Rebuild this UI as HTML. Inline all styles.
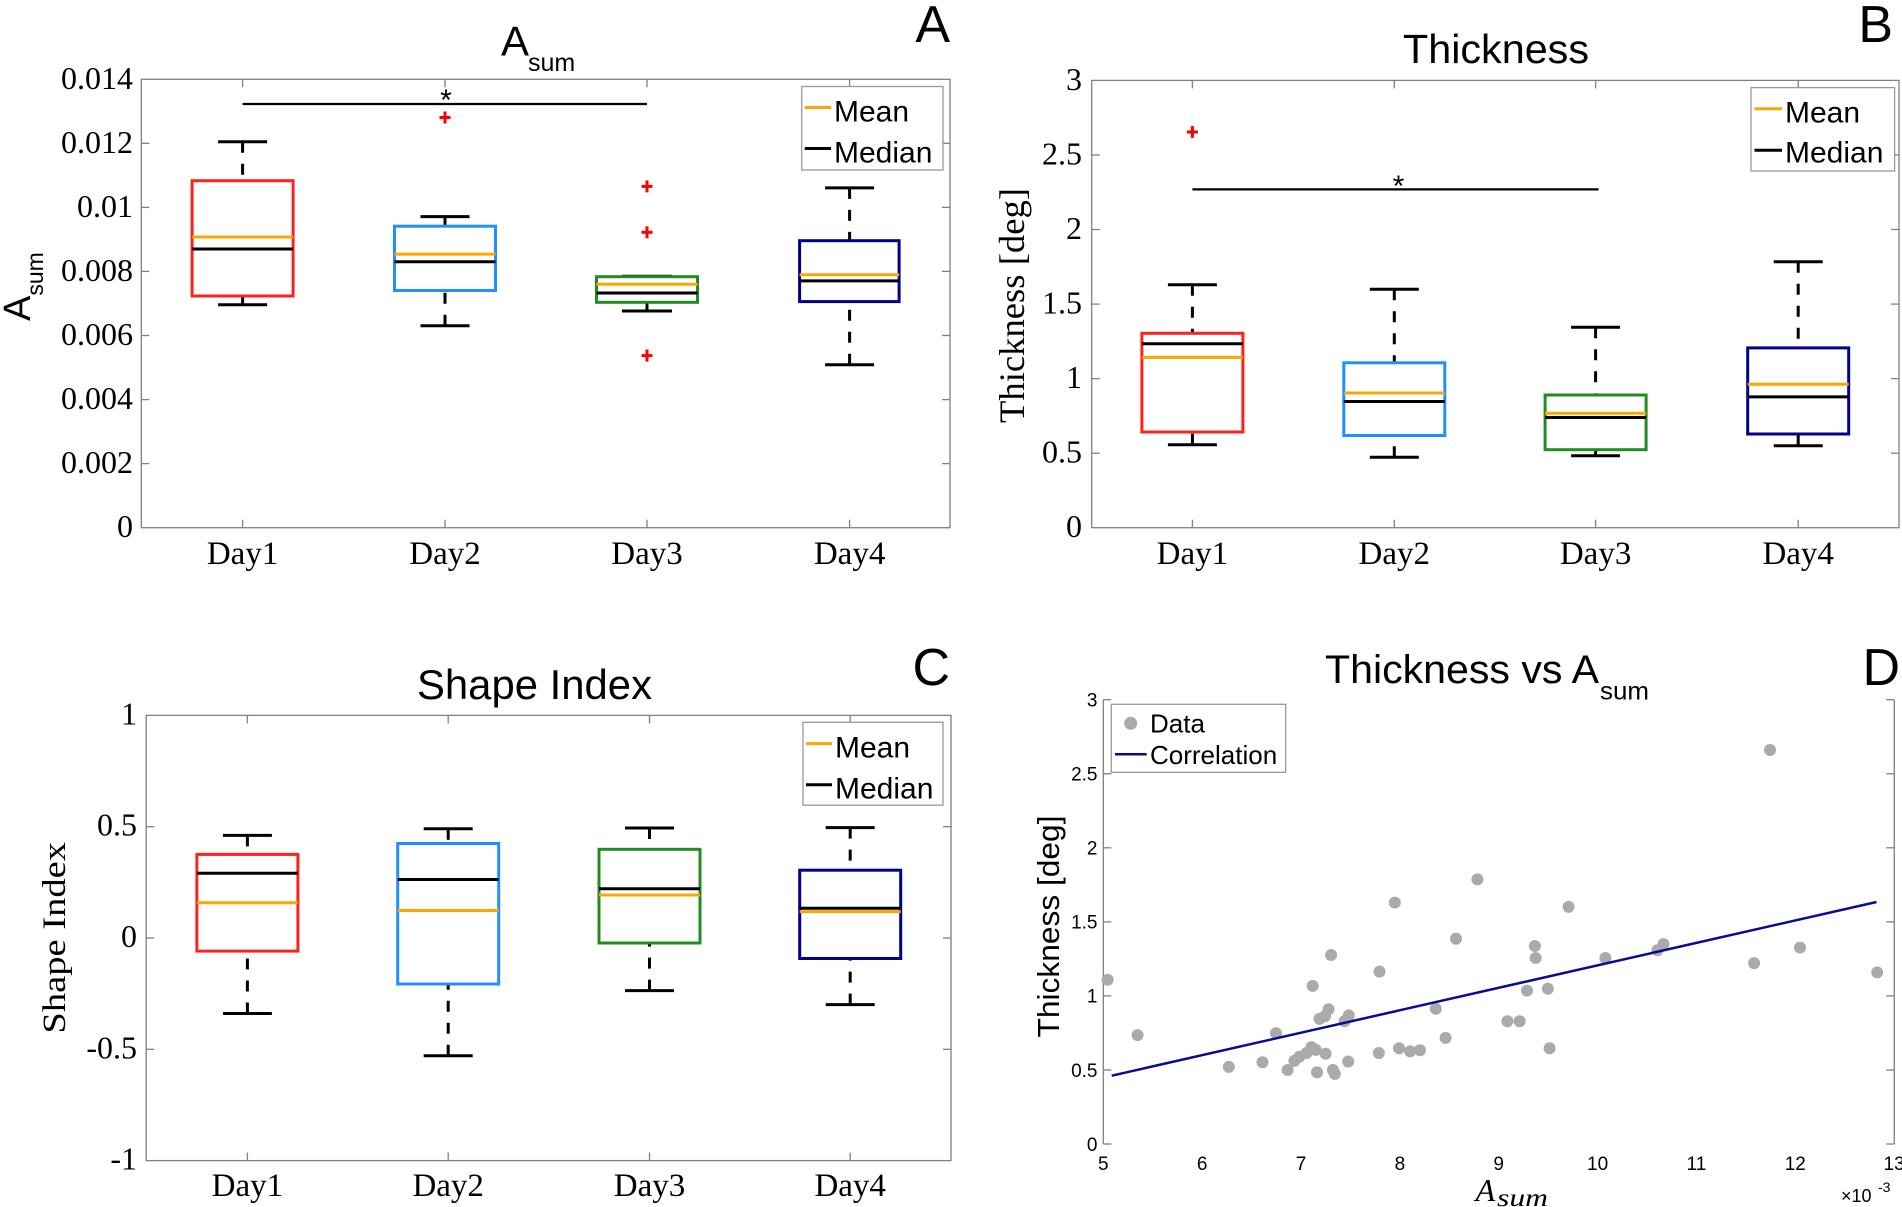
<!DOCTYPE html>
<html><head><meta charset="utf-8"><style>
html,body{margin:0;padding:0;background:#fff;}
svg{display:block;}
.ax{fill:none;stroke:#808080;stroke-width:1.3;}
.tk{stroke:#808080;stroke-width:1.3;}
.wh{stroke:#000;stroke-width:3;stroke-dasharray:11,11;}
.cap{stroke:#000;stroke-width:3;}
.med{stroke:#000;stroke-width:3;}
.mean{stroke:#ffa500;stroke-width:3;}
.out{stroke:#ff0000;stroke-width:3;}
.serif{font-family:"Liberation Serif",serif;fill:#000;}
.sans{font-family:"Liberation Sans",sans-serif;fill:#000;}
</style></head><body>
<svg width="1902" height="1207" viewBox="0 0 1902 1207" xmlns="http://www.w3.org/2000/svg">
<rect width="1902" height="1207" fill="#fff"/>

<!-- ============ PANEL A ============ -->
<text class="sans" x="501" y="55.5" font-size="42">A</text>
<text class="sans" x="528" y="71" font-size="25">sum</text>
<text class="sans" x="950" y="42" font-size="52" text-anchor="end">A</text>
<rect class="ax" x="141.3" y="79.3" width="808.7" height="448.4"/>
<g class="tk">
<line x1="141.3" y1="463.6" x2="149.3" y2="463.6"/><line x1="141.3" y1="399.6" x2="149.3" y2="399.6"/><line x1="141.3" y1="335.5" x2="149.3" y2="335.5"/><line x1="141.3" y1="271.4" x2="149.3" y2="271.4"/><line x1="141.3" y1="207.4" x2="149.3" y2="207.4"/><line x1="141.3" y1="143.3" x2="149.3" y2="143.3"/>
<line x1="950" y1="463.6" x2="942" y2="463.6"/><line x1="950" y1="399.6" x2="942" y2="399.6"/><line x1="950" y1="335.5" x2="942" y2="335.5"/><line x1="950" y1="271.4" x2="942" y2="271.4"/><line x1="950" y1="207.4" x2="942" y2="207.4"/><line x1="950" y1="143.3" x2="942" y2="143.3"/>
<line x1="242.6" y1="527.7" x2="242.6" y2="519.7"/><line x1="445" y1="527.7" x2="445" y2="519.7"/><line x1="647" y1="527.7" x2="647" y2="519.7"/><line x1="849.6" y1="527.7" x2="849.6" y2="519.7"/>
<line x1="242.6" y1="79.3" x2="242.6" y2="87.3"/><line x1="445" y1="79.3" x2="445" y2="87.3"/><line x1="647" y1="79.3" x2="647" y2="87.3"/><line x1="849.6" y1="79.3" x2="849.6" y2="87.3"/>
</g>
<g class="serif" font-size="32" text-anchor="end">
<text x="133" y="537.2">0</text><text x="133" y="473.1">0.002</text><text x="133" y="409.1">0.004</text><text x="133" y="345">0.006</text><text x="133" y="280.9">0.008</text><text x="133" y="216.9">0.01</text><text x="133" y="152.8">0.012</text><text x="133" y="88.8">0.014</text>
</g>
<g class="serif" font-size="33" text-anchor="middle">
<text x="242.6" y="564">Day1</text><text x="445" y="564">Day2</text><text x="647" y="564">Day3</text><text x="849.6" y="564">Day4</text>
</g>
<text class="sans" font-size="38" transform="translate(30,321) rotate(-90)">A<tspan font-size="23" dy="13">sum</tspan></text>
<!-- sig -->
<line x1="242.6" y1="104" x2="647" y2="104" stroke="#000" stroke-width="2.2"/>
<text class="sans" x="446" y="110" font-size="30" text-anchor="middle">*</text>
<!-- boxes A -->
<g>
<line class="wh" x1="242.6" y1="141.7" x2="242.6" y2="180.7"/><line class="wh" x1="242.6" y1="304.7" x2="242.6" y2="296"/>
<line class="cap" x1="218.1" y1="141.7" x2="267.1" y2="141.7"/><line class="cap" x1="218.1" y1="304.7" x2="267.1" y2="304.7"/>
<rect x="192.1" y="180.7" width="101" height="115.3" fill="none" stroke="#ff2020" stroke-width="3"/>
<line class="med" x1="192.1" y1="249" x2="293.1" y2="249"/><line class="mean" x1="192.1" y1="237" x2="293.1" y2="237"/>

<line class="wh" x1="445" y1="216.6" x2="445" y2="226.2"/><line class="wh" x1="445" y1="325.7" x2="445" y2="290.5"/>
<line class="cap" x1="420.5" y1="216.6" x2="469.5" y2="216.6"/><line class="cap" x1="420.5" y1="325.7" x2="469.5" y2="325.7"/>
<rect x="394.5" y="226.2" width="101" height="64.3" fill="none" stroke="#1e90ff" stroke-width="3"/>
<line class="med" x1="394.5" y1="261.8" x2="495.5" y2="261.8"/><line class="mean" x1="394.5" y1="254.1" x2="495.5" y2="254.1"/>
<line class="out" x1="439.5" y1="117.5" x2="450.5" y2="117.5"/><line class="out" x1="445" y1="111.5" x2="445" y2="123.5"/>

<line class="cap" x1="622" y1="276.3" x2="672" y2="276.3" stroke="#999"/>
<line class="wh" x1="647" y1="311" x2="647" y2="302.3"/>
<line class="cap" x1="622" y1="311" x2="672" y2="311"/>
<rect x="596.5" y="276.7" width="101" height="25.6" fill="none" stroke="#228b22" stroke-width="3"/>
<line class="med" x1="596.5" y1="293" x2="697.5" y2="293"/><line class="mean" x1="596.5" y1="284.3" x2="697.5" y2="284.3"/>
<line class="out" x1="641.5" y1="186.4" x2="652.5" y2="186.4"/><line class="out" x1="647" y1="180.4" x2="647" y2="192.4"/>
<line class="out" x1="641.5" y1="232.3" x2="652.5" y2="232.3"/><line class="out" x1="647" y1="226.3" x2="647" y2="238.3"/>
<line class="out" x1="641.5" y1="355.6" x2="652.5" y2="355.6"/><line class="out" x1="647" y1="349.6" x2="647" y2="361.6"/>

<line class="wh" x1="849.6" y1="187.9" x2="849.6" y2="240.7"/><line class="wh" x1="849.6" y1="364.7" x2="849.6" y2="301.6"/>
<line class="cap" x1="825.1" y1="187.9" x2="874.1" y2="187.9"/><line class="cap" x1="825.1" y1="364.7" x2="874.1" y2="364.7"/>
<rect x="799.6" y="240.7" width="99.5" height="60.9" fill="none" stroke="#00008b" stroke-width="3"/>
<line class="med" x1="799.6" y1="280.9" x2="899.1" y2="280.9"/><line class="mean" x1="799.6" y1="274.8" x2="899.1" y2="274.8"/>
</g>
<!-- legend A -->
<rect x="801.7" y="86.5" width="141.3" height="83.5" fill="#fff" stroke="#999" stroke-width="1.3"/>
<line x1="804.7" y1="107.5" x2="831" y2="107.5" stroke="#ffa500" stroke-width="3"/>
<line x1="804.7" y1="148.5" x2="831" y2="148.5" stroke="#000" stroke-width="3"/>
<text class="sans" x="834" y="121.7" font-size="30">Mean</text>
<text class="sans" x="834" y="162.6" font-size="30">Median</text>

<!-- ============ PANEL B ============ -->
<text class="sans" x="1403" y="63" font-size="41" textLength="186" lengthAdjust="spacingAndGlyphs">Thickness</text>
<text class="sans" x="1893" y="42" font-size="52" text-anchor="end">B</text>
<rect class="ax" x="1091.7" y="80.4" width="807.3" height="447.3"/>
<g class="tk">
<line x1="1091.7" y1="453.2" x2="1099.7" y2="453.2"/><line x1="1091.7" y1="378.6" x2="1099.7" y2="378.6"/><line x1="1091.7" y1="304.1" x2="1099.7" y2="304.1"/><line x1="1091.7" y1="229.5" x2="1099.7" y2="229.5"/><line x1="1091.7" y1="155" x2="1099.7" y2="155"/>
<line x1="1899" y1="453.2" x2="1891" y2="453.2"/><line x1="1899" y1="378.6" x2="1891" y2="378.6"/><line x1="1899" y1="304.1" x2="1891" y2="304.1"/><line x1="1899" y1="229.5" x2="1891" y2="229.5"/><line x1="1899" y1="155" x2="1891" y2="155"/>
<line x1="1192.4" y1="527.7" x2="1192.4" y2="519.7"/><line x1="1394.3" y1="527.7" x2="1394.3" y2="519.7"/><line x1="1595.6" y1="527.7" x2="1595.6" y2="519.7"/><line x1="1798.2" y1="527.7" x2="1798.2" y2="519.7"/>
<line x1="1192.4" y1="80.4" x2="1192.4" y2="88.4"/><line x1="1394.3" y1="80.4" x2="1394.3" y2="88.4"/><line x1="1595.6" y1="80.4" x2="1595.6" y2="88.4"/><line x1="1798.2" y1="80.4" x2="1798.2" y2="88.4"/>
</g>
<g class="serif" font-size="32" text-anchor="end">
<text x="1082" y="537.2">0</text><text x="1082" y="462.7">0.5</text><text x="1082" y="388.1">1</text><text x="1082" y="313.6">1.5</text><text x="1082" y="239">2</text><text x="1082" y="164.5">2.5</text><text x="1082" y="89.9">3</text>
</g>
<g class="serif" font-size="33" text-anchor="middle">
<text x="1192.4" y="564">Day1</text><text x="1394.3" y="564">Day2</text><text x="1595.6" y="564">Day3</text><text x="1798.2" y="564">Day4</text>
</g>
<text class="serif" font-size="36" transform="translate(1024,423) rotate(-90)" textLength="235" lengthAdjust="spacingAndGlyphs">Thickness [deg]</text>
<line x1="1192.4" y1="189.4" x2="1598.6" y2="189.4" stroke="#000" stroke-width="2.2"/>
<text class="sans" x="1398.5" y="196" font-size="30" text-anchor="middle">*</text>
<g>
<line class="wh" x1="1192.4" y1="284.7" x2="1192.4" y2="333.3"/><line class="wh" x1="1192.4" y1="444.7" x2="1192.4" y2="432"/>
<line class="cap" x1="1167.9" y1="284.7" x2="1216.9" y2="284.7"/><line class="cap" x1="1167.9" y1="444.7" x2="1216.9" y2="444.7"/>
<rect x="1141.9" y="333.3" width="101" height="98.7" fill="none" stroke="#ff2020" stroke-width="3"/>
<line class="med" x1="1141.9" y1="343.7" x2="1242.9" y2="343.7"/><line class="mean" x1="1141.9" y1="357.4" x2="1242.9" y2="357.4"/>
<line class="out" x1="1186.9" y1="132" x2="1197.9" y2="132"/><line class="out" x1="1192.4" y1="126" x2="1192.4" y2="138"/>

<line class="wh" x1="1394.3" y1="289.3" x2="1394.3" y2="362.8"/><line class="wh" x1="1394.3" y1="457.3" x2="1394.3" y2="435.5"/>
<line class="cap" x1="1369.8" y1="289.3" x2="1418.8" y2="289.3"/><line class="cap" x1="1369.8" y1="457.3" x2="1418.8" y2="457.3"/>
<rect x="1343.8" y="362.8" width="101" height="72.7" fill="none" stroke="#1e90ff" stroke-width="3"/>
<line class="med" x1="1343.8" y1="401.5" x2="1444.8" y2="401.5"/><line class="mean" x1="1343.8" y1="393" x2="1444.8" y2="393"/>

<line class="wh" x1="1595.6" y1="327.2" x2="1595.6" y2="395"/><line class="wh" x1="1595.6" y1="455.8" x2="1595.6" y2="449.7"/>
<line class="cap" x1="1571.1" y1="327.2" x2="1620.1" y2="327.2"/><line class="cap" x1="1571.1" y1="455.8" x2="1620.1" y2="455.8"/>
<rect x="1545.1" y="395" width="101" height="54.7" fill="none" stroke="#228b22" stroke-width="3"/>
<line class="med" x1="1545.1" y1="417.5" x2="1646.1" y2="417.5"/><line class="mean" x1="1545.1" y1="413.3" x2="1646.1" y2="413.3"/>

<line class="wh" x1="1798.2" y1="261.8" x2="1798.2" y2="347.9"/><line class="wh" x1="1798.2" y1="445.8" x2="1798.2" y2="434"/>
<line class="cap" x1="1773.7" y1="261.8" x2="1822.7" y2="261.8"/><line class="cap" x1="1773.7" y1="445.8" x2="1822.7" y2="445.8"/>
<rect x="1747.7" y="347.9" width="101" height="86.1" fill="none" stroke="#00008b" stroke-width="3"/>
<line class="med" x1="1747.7" y1="396.9" x2="1848.7" y2="396.9"/><line class="mean" x1="1747.7" y1="384.2" x2="1848.7" y2="384.2"/>
</g>
<rect x="1751" y="87.6" width="143.6" height="83.4" fill="#fff" stroke="#999" stroke-width="1.3"/>
<line x1="1754.5" y1="108.8" x2="1782" y2="108.8" stroke="#ffa500" stroke-width="3"/>
<line x1="1754.5" y1="150.2" x2="1782" y2="150.2" stroke="#000" stroke-width="3"/>
<text class="sans" x="1785" y="122.3" font-size="30">Mean</text>
<text class="sans" x="1785" y="162.7" font-size="30">Median</text>

<!-- ============ PANEL C ============ -->
<text class="sans" x="417" y="699" font-size="42" textLength="235" lengthAdjust="spacingAndGlyphs">Shape Index</text>
<text class="sans" x="950" y="685" font-size="52" text-anchor="end">C</text>
<rect class="ax" x="146.2" y="715.4" width="804.8" height="445.2"/>
<g class="tk">
<line x1="146.2" y1="826.7" x2="154.2" y2="826.7"/><line x1="146.2" y1="938" x2="154.2" y2="938"/><line x1="146.2" y1="1049.3" x2="154.2" y2="1049.3"/>
<line x1="951" y1="826.7" x2="943" y2="826.7"/><line x1="951" y1="938" x2="943" y2="938"/><line x1="951" y1="1049.3" x2="943" y2="1049.3"/>
<line x1="247.4" y1="1160.6" x2="247.4" y2="1152.6"/><line x1="448.2" y1="1160.6" x2="448.2" y2="1152.6"/><line x1="649.5" y1="1160.6" x2="649.5" y2="1152.6"/><line x1="850.2" y1="1160.6" x2="850.2" y2="1152.6"/>
<line x1="247.4" y1="715.4" x2="247.4" y2="723.4"/><line x1="448.2" y1="715.4" x2="448.2" y2="723.4"/><line x1="649.5" y1="715.4" x2="649.5" y2="723.4"/><line x1="850.2" y1="715.4" x2="850.2" y2="723.4"/>
</g>
<g class="serif" font-size="32" text-anchor="end">
<text x="137" y="724.4">1</text><text x="137" y="835.7">0.5</text><text x="137" y="947">0</text><text x="137" y="1058.3">-0.5</text><text x="137" y="1169.6">-1</text>
</g>
<g class="serif" font-size="33" text-anchor="middle">
<text x="247.4" y="1196">Day1</text><text x="448.2" y="1196">Day2</text><text x="649.5" y="1196">Day3</text><text x="850.2" y="1196">Day4</text>
</g>
<text class="serif" font-size="33" transform="translate(65,1033.6) rotate(-90)" textLength="191.6" lengthAdjust="spacingAndGlyphs">Shape Index</text>
<g>
<line class="wh" x1="247.4" y1="835.4" x2="247.4" y2="854.4"/><line class="wh" x1="247.4" y1="1013.5" x2="247.4" y2="951.1"/>
<line class="cap" x1="222.9" y1="835.4" x2="271.9" y2="835.4"/><line class="cap" x1="222.9" y1="1013.5" x2="271.9" y2="1013.5"/>
<rect x="196.9" y="854.4" width="101" height="96.7" fill="none" stroke="#ff2020" stroke-width="3"/>
<line class="med" x1="196.9" y1="873.3" x2="297.9" y2="873.3"/><line class="mean" x1="196.9" y1="902.7" x2="297.9" y2="902.7"/>

<line class="wh" x1="448.2" y1="828.8" x2="448.2" y2="843.5"/><line class="wh" x1="448.2" y1="1055.7" x2="448.2" y2="984"/>
<line class="cap" x1="423.7" y1="828.8" x2="472.7" y2="828.8"/><line class="cap" x1="423.7" y1="1055.7" x2="472.7" y2="1055.7"/>
<rect x="397.7" y="843.5" width="101" height="140.5" fill="none" stroke="#1e90ff" stroke-width="3"/>
<line class="med" x1="397.7" y1="879.5" x2="498.7" y2="879.5"/><line class="mean" x1="397.7" y1="910.5" x2="498.7" y2="910.5"/>

<line class="wh" x1="649.5" y1="828" x2="649.5" y2="849.3"/><line class="wh" x1="649.5" y1="990.6" x2="649.5" y2="943"/>
<line class="cap" x1="625" y1="828" x2="674" y2="828"/><line class="cap" x1="625" y1="990.6" x2="674" y2="990.6"/>
<rect x="599" y="849.3" width="101" height="93.7" fill="none" stroke="#228b22" stroke-width="3"/>
<line class="med" x1="599" y1="888.8" x2="700" y2="888.8"/><line class="mean" x1="599" y1="895" x2="700" y2="895"/>

<line class="wh" x1="850.2" y1="827.6" x2="850.2" y2="870.2"/><line class="wh" x1="850.2" y1="1004.6" x2="850.2" y2="958.5"/>
<line class="cap" x1="825.7" y1="827.6" x2="874.7" y2="827.6"/><line class="cap" x1="825.7" y1="1004.6" x2="874.7" y2="1004.6"/>
<rect x="799.7" y="870.2" width="101" height="88.3" fill="none" stroke="#00008b" stroke-width="3"/>
<line class="med" x1="799.7" y1="908.2" x2="900.7" y2="908.2"/><line class="mean" x1="799.7" y1="911.6" x2="900.7" y2="911.6"/>
</g>
<rect x="803" y="722.3" width="140" height="82.9" fill="#fff" stroke="#999" stroke-width="1.3"/>
<line x1="806" y1="743.6" x2="832" y2="743.6" stroke="#ffa500" stroke-width="3"/>
<line x1="806" y1="784.7" x2="832" y2="784.7" stroke="#000" stroke-width="3"/>
<text class="sans" x="835" y="757.6" font-size="30">Mean</text>
<text class="sans" x="835" y="798.6" font-size="30">Median</text>

<!-- ============ PANEL D ============ -->
<text class="sans" x="1325" y="683" font-size="40" textLength="274" lengthAdjust="spacingAndGlyphs">Thickness vs A</text>
<text class="sans" x="1600" y="699.5" font-size="25" textLength="49" lengthAdjust="spacingAndGlyphs">sum</text>
<text class="sans" x="1900" y="685" font-size="52" text-anchor="end">D</text>
<g class="tk">
<line x1="1103.3" y1="699.7" x2="1103.3" y2="1144"/>
<line x1="1894.3" y1="699.7" x2="1894.3" y2="1144"/>
<line x1="1103.3" y1="1144" x2="1111.3" y2="1144"/><line x1="1103.3" y1="1070" x2="1111.3" y2="1070"/><line x1="1103.3" y1="995.9" x2="1111.3" y2="995.9"/><line x1="1103.3" y1="921.9" x2="1111.3" y2="921.9"/><line x1="1103.3" y1="847.8" x2="1111.3" y2="847.8"/><line x1="1103.3" y1="773.8" x2="1111.3" y2="773.8"/><line x1="1103.3" y1="699.7" x2="1111.3" y2="699.7"/>
<line x1="1894.3" y1="1144" x2="1886.3" y2="1144"/><line x1="1894.3" y1="1070" x2="1886.3" y2="1070"/><line x1="1894.3" y1="995.9" x2="1886.3" y2="995.9"/><line x1="1894.3" y1="921.9" x2="1886.3" y2="921.9"/><line x1="1894.3" y1="847.8" x2="1886.3" y2="847.8"/><line x1="1894.3" y1="773.8" x2="1886.3" y2="773.8"/><line x1="1894.3" y1="699.7" x2="1886.3" y2="699.7"/>
</g>
<g class="sans" font-size="19" text-anchor="end">
<text x="1097.5" y="1150.8">0</text><text x="1097.5" y="1076.8">0.5</text><text x="1097.5" y="1002.7">1</text><text x="1097.5" y="928.7">1.5</text><text x="1097.5" y="854.6">2</text><text x="1097.5" y="780.6">2.5</text><text x="1097.5" y="706.5">3</text>
</g>
<g class="sans" font-size="19" text-anchor="middle">
<text x="1103.3" y="1170">5</text><text x="1202.2" y="1170">6</text><text x="1301" y="1170">7</text><text x="1399.9" y="1170">8</text><text x="1498.7" y="1170">9</text><text x="1597.6" y="1170">10</text><text x="1696.4" y="1170">11</text><text x="1795.3" y="1170">12</text><text x="1894.1" y="1170">13</text>
</g>
<text class="sans" x="1841" y="1202" font-size="18">×10</text>
<text class="sans" x="1878" y="1192" font-size="14">-3</text>
<text class="sans" font-size="31" transform="translate(1059,1037.5) rotate(-90)" textLength="222" lengthAdjust="spacingAndGlyphs">Thickness [deg]</text>
<text class="serif" x="1475.6" y="1201" font-size="32" font-style="italic">A</text>
<text class="serif" x="1497" y="1206" font-size="25" font-style="italic" textLength="51" lengthAdjust="spacingAndGlyphs">sum</text>
<g fill="#aaaaaa">
<circle cx="1107.6" cy="979.7" r="6"/><circle cx="1137.6" cy="1035.1" r="6"/><circle cx="1228.8" cy="1066.9" r="6"/><circle cx="1262.5" cy="1062.3" r="6"/><circle cx="1276" cy="1033.2" r="6"/><circle cx="1287.6" cy="1070" r="6"/><circle cx="1294.4" cy="1060.7" r="6"/><circle cx="1299.3" cy="1056.8" r="6"/><circle cx="1306.6" cy="1053" r="6"/><circle cx="1311.5" cy="1047.1" r="6"/><circle cx="1315.8" cy="1049.9" r="6"/><circle cx="1312.7" cy="985.9" r="6"/><circle cx="1317" cy="1072.3" r="6"/><circle cx="1319.5" cy="1018.9" r="6"/><circle cx="1325.6" cy="1053.7" r="6"/><circle cx="1325" cy="1016.2" r="6"/><circle cx="1328.6" cy="1009.2" r="6"/><circle cx="1331.1" cy="955" r="6"/><circle cx="1332.9" cy="1070" r="6"/><circle cx="1334.8" cy="1073.9" r="6"/><circle cx="1344.6" cy="1021.2" r="6"/><circle cx="1348.8" cy="1015.4" r="6"/><circle cx="1348.2" cy="1061.5" r="6"/><circle cx="1378.8" cy="1053" r="6"/><circle cx="1379.5" cy="971.6" r="6"/><circle cx="1394.8" cy="902.6" r="6"/><circle cx="1399" cy="1048.3" r="6"/><circle cx="1410.1" cy="1051.4" r="6"/><circle cx="1419.9" cy="1050.2" r="6"/><circle cx="1435.8" cy="1008.8" r="6"/><circle cx="1445.6" cy="1037.9" r="6"/><circle cx="1456" cy="938.7" r="6"/><circle cx="1477.4" cy="879.4" r="6"/><circle cx="1507.4" cy="1021.2" r="6"/><circle cx="1519.6" cy="1021.2" r="6"/><circle cx="1527" cy="990.6" r="6"/><circle cx="1534.9" cy="946" r="6"/><circle cx="1535.6" cy="958" r="6"/><circle cx="1547.8" cy="988.7" r="6"/><circle cx="1549.6" cy="1048.3" r="6"/><circle cx="1568.6" cy="906.9" r="6"/><circle cx="1605.4" cy="958" r="6"/><circle cx="1657.4" cy="950.3" r="6"/><circle cx="1663.5" cy="944.1" r="6"/><circle cx="1754.1" cy="963.1" r="6"/><circle cx="1770" cy="750" r="6"/><circle cx="1800" cy="947.6" r="6"/><circle cx="1877.2" cy="972.4" r="6"/>
</g>
<line x1="1111.7" y1="1075.7" x2="1876.5" y2="902" stroke="#0a0a96" stroke-width="2.5"/>
<rect x="1111.3" y="704.3" width="174.4" height="68" fill="#fff" stroke="#999" stroke-width="1.3"/>
<circle cx="1130.7" cy="723.3" r="6.5" fill="#aaaaaa"/>
<line x1="1115" y1="754.3" x2="1146.7" y2="754.3" stroke="#0a0a96" stroke-width="2.5"/>
<text class="sans" x="1150" y="732.3" font-size="26">Data</text>
<text class="sans" x="1150" y="764" font-size="26">Correlation</text>
</svg>
</body></html>
